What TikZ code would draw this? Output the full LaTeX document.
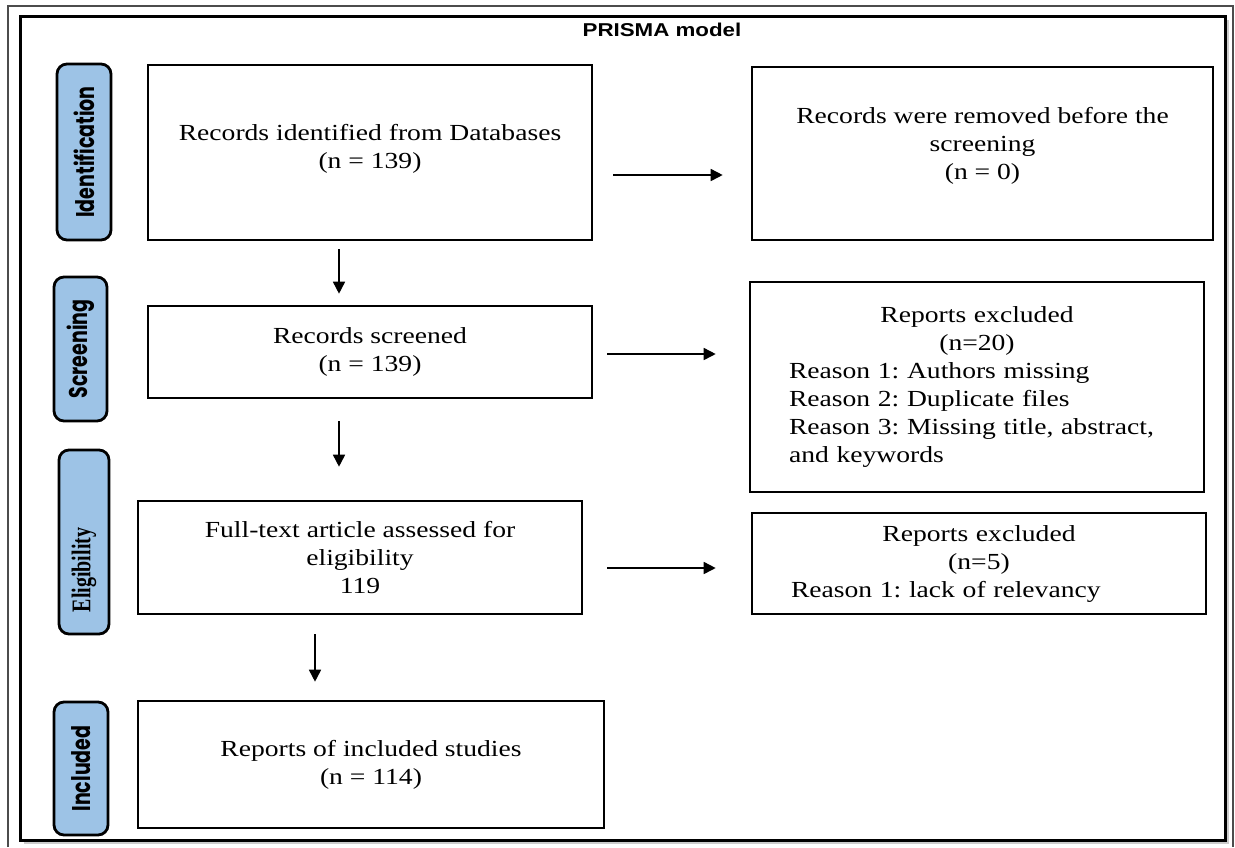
\documentclass[tikz,border=0pt]{standalone}
\usepackage{fontspec}
\setmainfont{Liberation Serif}[FakeStretch=1.2]
\setsansfont{Liberation Sans}[FakeStretch=1.2]
\newfontfamily\stagefont{Poppins}
\newfontfamily\stageserif{Liberation Serif}
\usetikzlibrary{
  arrows.meta,
  shadows
}
\definecolor{stageblue}{RGB}{157,195,230}
\newcommand{\tall}[1]{\scalebox{1}[1.35]{#1}}

\begin{document}
\frenchspacing
\begin{tikzpicture}[
  x=0.5pt, y=-0.5pt,
  every node/.style = {font=\fontsize{11.5}{14}\selectfont},
  box/.style = {shape=rectangle, draw, line width=1.3pt,
    align=center, inner sep=0pt},
  stage/.style = {shape=rectangle, rounded corners=5pt, draw,
    line width=1.4pt, fill=stageblue, rotate=90, inner sep=0pt,
    font=\stagefont\bfseries\fontsize{9.5}{11}\selectfont}]
    \tikzstyle{arr}=[line width=0.8pt, -{Triangle[length=6pt,width=6pt]}]
  \useasboundingbox (0,0) rectangle (1235,847);
  \draw[line width=0.6pt, black!70] (8,847) -- (8,6) -- (1233,6) -- (1233,847);
  \node[draw, line width=1.5pt, fill=white, inner sep=0pt,
    minimum width=602.5pt, minimum height=412pt,
    drop shadow={shadow xshift=2pt, shadow yshift=-2pt, fill=black!40}]
    (frame) at (622.5,428) {};
  \node[font=\sffamily\bfseries\fontsize{9.3}{11}\selectfont] (title) at (662,30) {PRISMA model};

  \node[box, minimum width=222pt, minimum height=87.5pt] (ident) at (370,152.5)
    {Records identified from Databases\\(n = 139)\\[-8pt]\mbox{}};
  \node[box, minimum width=230.5pt, minimum height=86.5pt] (removed) at (982.5,153.5)
    {Records were removed before the\\screening\\(n = 0)\\[-4pt]\mbox{}};
  \node[box, minimum width=222pt, minimum height=46pt] (screened) at (370,352)
    {Records screened\\(n = 139)};
  \node[box, minimum width=227pt, minimum height=105pt, align=left, text width=188pt] (excl) at (977,387)
    {\makebox[188pt]{Reports excluded}\\\makebox[188pt]{(n=20)}\\Reason 1: Authors missing\\
     Reason 2: Duplicate files\\Reason 3: Missing title, abstract,\\and keywords};
  \node[box, minimum width=222pt, minimum height=56.5pt] (fulltext) at (360,557.5)
    {Full-text article assessed for\\eligibility\\119};
  \node[box, minimum width=227pt, minimum height=50.5pt, align=left, text width=188pt] (excltwo) at (979,563.5)
    {\makebox[188pt]{Reports excluded}\\\makebox[188pt]{(n=5)}\\Reason 1: lack of relevancy};
  \node[box, minimum width=233pt, minimum height=63.5pt] (incl) at (371,764.5)
    {Reports of included studies\\(n = 114)};

  \node[stage, minimum width=88pt, minimum height=27pt] (sid) at (84,152) {\tall{Identification}};
  \node[stage, minimum width=72pt, minimum height=26.5pt] (sscr) at (80.5,349) {\tall{Screening}};
  \node[stage, minimum width=92pt, minimum height=25pt,
    font=\stageserif\bfseries\fontsize{10}{12}\selectfont] (selig) at (84,542) {\tall{Eligibility}\rule{28pt}{0pt}};
  \node[stage, minimum width=66.5pt, minimum height=27pt] (sincl) at (81,768.5) {\tall{Included}};

  \draw[arr] ([shift={(20,22.5)}]ident.east) -- ([shift={(-28,21.5)}]removed.west);
  \draw[arr] ([shift={(14,2)}]screened.east) -- ([shift={(-33,-33)}]excl.west);
  \draw[arr] ([shift={(24,10.5)}]fulltext.east) -- ([shift={(-35,4.5)}]excltwo.west);
  \draw[arr] ([shift={(-31,8)}]ident.south) -- ([shift={(-31,-11)}]screened.north);
  \draw[arr] ([shift={(-31,22)}]screened.south) -- ([shift={(-21,-33)}]fulltext.north);
  \draw[arr] ([shift={(-45,19)}]fulltext.south) -- ([shift={(-56,-18)}]incl.north);
\end{tikzpicture}
\end{document}
